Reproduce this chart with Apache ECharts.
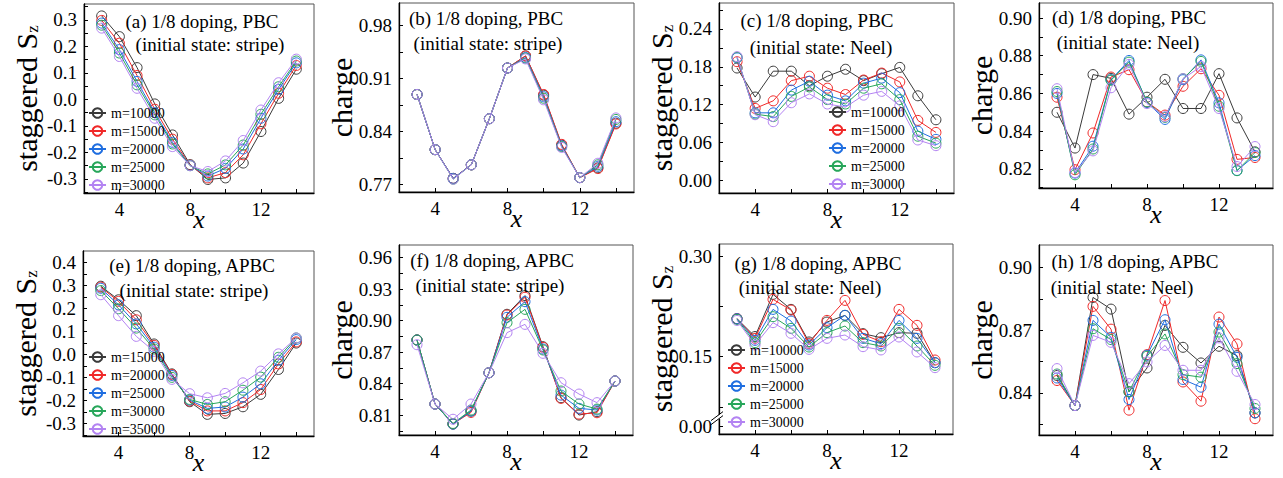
<!DOCTYPE html>
<html><head><meta charset="utf-8">
<script src="https://cdn.jsdelivr.net/npm/echarts@6/dist/echarts.min.js"></script>
<style>html,body{margin:0;padding:0;background:#fff}#c{width:1283px;height:478px}</style>
</head><body><div id="c"></div>
<script>
// ---------------- data ----------------
const xValues = [3, 4, 5, 6, 7, 8, 9, 10, 11, 12, 13, 14];
const xTickLabels = [4, 8, 12];
const xTickMarks = [4, 6, 8, 10, 12, 14];

// (a) staggered Sz, PBC, stripe
const a_m10000 = [0.315, 0.237, 0.120, -0.017, -0.134, -0.246, -0.302, -0.296, -0.240, -0.121, 0.004, 0.114];
const a_m15000 = [0.298, 0.212, 0.090, -0.037, -0.150, -0.248, -0.296, -0.276, -0.209, -0.092, 0.023, 0.128];
const a_m20000 = [0.288, 0.188, 0.068, -0.050, -0.162, -0.249, -0.289, -0.260, -0.187, -0.071, 0.038, 0.138];
const a_m25000 = [0.280, 0.175, 0.055, -0.058, -0.168, -0.250, -0.281, -0.247, -0.172, -0.056, 0.048, 0.145];
const a_m30000 = [0.269, 0.162, 0.042, -0.071, -0.178, -0.250, -0.272, -0.232, -0.155, -0.040, 0.063, 0.152];
// (b) charge, PBC, stripe
const b_m10000 = [0.889, 0.816, 0.778, 0.796, 0.857, 0.924, 0.940, 0.888, 0.822, 0.779, 0.792, 0.851];
const b_m15000 = [0.889, 0.816, 0.778, 0.796, 0.857, 0.924, 0.940, 0.889, 0.823, 0.779, 0.791, 0.850];
const b_m20000 = [0.889, 0.816, 0.778, 0.796, 0.857, 0.924, 0.938, 0.886, 0.821, 0.779, 0.794, 0.853];
const b_m25000 = [0.889, 0.816, 0.777, 0.796, 0.857, 0.924, 0.937, 0.884, 0.820, 0.779, 0.796, 0.856];
const b_m30000 = [0.889, 0.816, 0.777, 0.796, 0.857, 0.924, 0.936, 0.882, 0.819, 0.779, 0.798, 0.858];
// (c) staggered Sz, PBC, Neel
const c_m10000 = [0.178, 0.132, 0.173, 0.173, 0.150, 0.165, 0.176, 0.158, 0.169, 0.179, 0.134, 0.096];
const c_m15000 = [0.188, 0.114, 0.126, 0.158, 0.165, 0.146, 0.136, 0.159, 0.170, 0.156, 0.095, 0.076];
const c_m20000 = [0.194, 0.107, 0.107, 0.143, 0.157, 0.135, 0.126, 0.154, 0.162, 0.139, 0.078, 0.065];
const c_m25000 = [0.195, 0.105, 0.101, 0.133, 0.148, 0.128, 0.121, 0.146, 0.153, 0.128, 0.070, 0.059];
const c_m30000 = [0.196, 0.104, 0.093, 0.123, 0.137, 0.121, 0.116, 0.135, 0.141, 0.118, 0.064, 0.055];
// (d) charge, PBC, Neel
const d_m10000 = [0.850, 0.831, 0.870, 0.868, 0.849, 0.858, 0.8675, 0.852, 0.852, 0.8705, 0.847, 0.829];
const d_m15000 = [0.858, 0.8195, 0.839, 0.8687, 0.8726, 0.8555, 0.8485, 0.8638, 0.8731, 0.859, 0.825, 0.826];
const d_m20000 = [0.860, 0.8177, 0.832, 0.8673, 0.8775, 0.8552, 0.8462, 0.8673, 0.8778, 0.855, 0.8191, 0.827];
const d_m25000 = [0.861, 0.8168, 0.8305, 0.867, 0.8766, 0.8555, 0.8473, 0.8678, 0.877, 0.8532, 0.819, 0.8286];
const d_m30000 = [0.8625, 0.818, 0.8295, 0.863, 0.8754, 0.8546, 0.8476, 0.8678, 0.8743, 0.852, 0.8212, 0.8318];
// (e) staggered Sz, APBC, stripe
const e_m15000 = [0.296, 0.237, 0.168, 0.045, -0.085, -0.206, -0.261, -0.257, -0.228, -0.174, -0.066, 0.049];
const e_m20000 = [0.292, 0.230, 0.150, 0.039, -0.088, -0.203, -0.246, -0.246, -0.210, -0.153, -0.042, 0.054];
const e_m25000 = [0.287, 0.215, 0.132, 0.031, -0.092, -0.199, -0.235, -0.229, -0.186, -0.128, -0.026, 0.064];
const e_m30000 = [0.277, 0.198, 0.114, 0.023, -0.100, -0.196, -0.218, -0.206, -0.156, -0.099, -0.013, 0.071];
const e_m35000 = [0.259, 0.168, 0.078, 0.013, -0.109, -0.171, -0.189, -0.170, -0.124, -0.073, 0.002, 0.071];
// (f) charge, APBC, stripe
const f_m15000 = [0.8815, 0.8205, 0.8014, 0.8138, 0.8503, 0.906, 0.9238, 0.8751, 0.8265, 0.810, 0.8132, 0.8424];
const f_m20000 = [0.8815, 0.8205, 0.8017, 0.8125, 0.8503, 0.9053, 0.9222, 0.8745, 0.8259, 0.8109, 0.8122, 0.8424];
const f_m25000 = [0.8815, 0.8205, 0.8014, 0.8138, 0.8503, 0.9031, 0.918, 0.8729, 0.829, 0.8164, 0.8148, 0.8424];
const f_m30000 = [0.8815, 0.8205, 0.802, 0.8148, 0.8503, 0.898, 0.9107, 0.872, 0.8329, 0.8205, 0.8157, 0.8424];
const f_m35000 = [0.877, 0.8205, 0.806, 0.8205, 0.8503, 0.8885, 0.8964, 0.8688, 0.8408, 0.830, 0.8218, 0.8424];
// (g) staggered Sz, APBC, Neel
const g_m10000 = [0.2066, 0.180, 0.2429, 0.2205, 0.1719, 0.2016, 0.2116, 0.1843, 0.1783, 0.1858, 0.1848, 0.141];
const g_m15000 = [0.2066, 0.1773, 0.2354, 0.2195, 0.1694, 0.2041, 0.2339, 0.1833, 0.1723, 0.2205, 0.1967, 0.145];
const g_m20000 = [0.2066, 0.1743, 0.2205, 0.2031, 0.1674, 0.1932, 0.2116, 0.1773, 0.1694, 0.2041, 0.1773, 0.141];
const g_m25000 = [0.2055, 0.1709, 0.2096, 0.1922, 0.1644, 0.1858, 0.1957, 0.1709, 0.1659, 0.1922, 0.1659, 0.1371];
const g_m30000 = [0.204, 0.1674, 0.2007, 0.1848, 0.1609, 0.1773, 0.1823, 0.1649, 0.160, 0.1793, 0.157, 0.1336];
// (h) charge, APBC, Neel
const h_m10000 = [0.8483, 0.8339, 0.8857, 0.8801, 0.8405, 0.8519, 0.8723, 0.8618, 0.8543, 0.8623, 0.8578, 0.8304];
const h_m15000 = [0.8459, 0.8339, 0.8814, 0.8705, 0.8317, 0.8583, 0.8842, 0.8452, 0.836, 0.8763, 0.8634, 0.8276];
const h_m20000 = [0.8471, 0.8339, 0.8747, 0.8666, 0.8368, 0.858, 0.875, 0.8464, 0.8427, 0.8729, 0.857, 0.8304];
const h_m25000 = [0.849, 0.8339, 0.8707, 0.8655, 0.8405, 0.8575, 0.8682, 0.8487, 0.8475, 0.8691, 0.854, 0.8325];
const h_m30000 = [0.8516, 0.8339, 0.8675, 0.8642, 0.8444, 0.8548, 0.8627, 0.8508, 0.8508, 0.8663, 0.8503, 0.8344];

const namesA = ['m=10000', 'm=15000', 'm=20000', 'm=25000', 'm=30000'];
const namesE = ['m=15000', 'm=20000', 'm=25000', 'm=30000', 'm=35000'];

// tick labels / tick marks of the y axes
const aYLabels = [-0.3, -0.2, -0.1, 0.0, 0.1, 0.2, 0.3];
const aYTicks = [-0.35, -0.3, -0.25, -0.2, -0.15, -0.1, -0.05, 0, 0.05, 0.1, 0.15, 0.2, 0.25, 0.3, 0.35];
const bYLabels = [0.77, 0.84, 0.91, 0.98];
const bYTicks = [0.77, 0.805, 0.84, 0.875, 0.91, 0.945, 0.98];
const cYLabels = [0.00, 0.06, 0.12, 0.18, 0.24];
const cYTicks = [0, 0.03, 0.06, 0.09, 0.12, 0.15, 0.18, 0.21, 0.24, 0.27];
const dYLabels = [0.82, 0.84, 0.86, 0.88, 0.90];
const dYTicks = [0.81, 0.82, 0.83, 0.84, 0.85, 0.86, 0.87, 0.88, 0.89, 0.90];
const eYLabels = [-0.3, -0.2, -0.1, 0.0, 0.1, 0.2, 0.3, 0.4];
const eYTicks = [-0.35, -0.3, -0.25, -0.2, -0.15, -0.1, -0.05, 0, 0.05, 0.1, 0.15, 0.2, 0.25, 0.3, 0.35, 0.4];
const fYLabels = [0.81, 0.84, 0.87, 0.90, 0.93, 0.96];
const fYTicks = [0.795, 0.81, 0.825, 0.84, 0.855, 0.87, 0.885, 0.90, 0.915, 0.93, 0.945, 0.96];
const gYLabels = [0.00, 0.15, 0.30];
const gYTicks = [0, 0.075, 0.15, 0.225, 0.30];
const hYLabels = [0.84, 0.87, 0.90];
const hYTicks = [0.825, 0.84, 0.855, 0.87, 0.885, 0.90];

// ---------------- styling / layout ----------------
const COLORS = ['#3a3a3a', '#f02828', '#1f6ee0', '#27a65a', '#b383f2'];
const SERIF = 'Liberation Serif, serif';
const SZ = 'staggered S{sub|z}';

const panels = [
  {k: 'a', box: [84, 4, 314, 193], y: [-0.353, 0.36], yl: aYLabels, yt: aYTicks, dec: 1, yName: SZ,
   data: [a_m10000, a_m15000, a_m20000, a_m25000, a_m30000], names: namesA, legend: {left: 88, top: 106},
   notes: [['(a) 1/8 doping, PBC', 202, 21], ['(initial state: stripe)', 210, 44]]},
  {k: 'b', box: [399, 3, 634, 192], y: [0.76, 1.01], yl: bYLabels, yt: bYTicks, dec: 2, yName: 'charge',
   data: [b_m10000, b_m15000, b_m20000, b_m25000, b_m30000], names: namesA, legend: null,
   notes: [['(b) 1/8 doping, PBC', 486, 18], ['(initial state: stripe)', 488, 43]]},
  {k: 'c', box: [719, 3, 954, 193], y: [-0.02, 0.281], yl: cYLabels, yt: cYTicks, dec: 2, yName: SZ,
   data: [c_m10000, c_m15000, c_m20000, c_m25000, c_m30000], names: namesA, legend: {left: 828, top: 105},
   notes: [['(c) 1/8 doping, PBC', 817, 20], ['(initial state: Neel)', 821, 47]]},
  {k: 'd', box: [1039, 3, 1273, 188], y: [0.8098, 0.908], yl: dYLabels, yt: dYTicks, dec: 2, yName: 'charge',
   data: [d_m10000, d_m15000, d_m20000, d_m25000, d_m30000], names: namesA, legend: null,
   notes: [['(d) 1/8 doping, PBC', 1129, 17], ['(initial state: Neel)', 1128, 42]]},
  {k: 'e', box: [83, 251, 314, 436], y: [-0.355, 0.449], yl: eYLabels, yt: eYTicks, dec: 1, yName: SZ,
   data: [e_m15000, e_m20000, e_m25000, e_m30000, e_m35000], names: namesE, legend: {left: 88, top: 350},
   notes: [['(e) 1/8 doping, APBC', 192, 265], ['(initial state: stripe)', 194, 290]]},
  {k: 'f', box: [399, 245, 633, 435], y: [0.791, 0.972], yl: fYLabels, yt: fYTicks, dec: 2, yName: 'charge',
   data: [f_m15000, f_m20000, f_m25000, f_m30000, f_m35000], names: namesE, legend: null,
   notes: [['(f) 1/8 doping, APBC', 492, 260], ['(initial state: stripe)', 490, 285]]},
  {k: 'g', box: [719, 244, 953, 434], y: [-0.0115, 0.318], yl: gYLabels, yt: gYTicks, dec: 2, yName: SZ,
   breaks: [{start: 0.01, end: 0.059, gap: '1%'}],
   data: [g_m10000, g_m15000, g_m20000, g_m25000, g_m30000], names: namesA, legend: {left: 727, top: 343},
   notes: [['(g) 1/8 doping, APBC', 818, 263], ['(initial state: Neel)', 810, 287]]},
  {k: 'h', box: [1039, 245, 1273, 435], y: [0.8198, 0.9108], yl: hYLabels, yt: hYTicks, dec: 2, yName: 'charge',
   data: [h_m10000, h_m15000, h_m20000, h_m25000, h_m30000], names: namesA, legend: null,
   notes: [['(h) 1/8 doping, APBC', 1135, 261], ['(initial state: Neel)', 1122, 287]]}
];

const option = {animation: false, backgroundColor: '#fff', grid: [], xAxis: [], yAxis: [], series: [], legend: [], graphic: []};

panels.forEach((p, i) => {
  const [l, t, r, b] = p.box;
  option.grid.push({left: l, top: t, width: r - l, height: b - t, show: true, borderColor: '#555', borderWidth: 1,
    backgroundColor: 'transparent', containLabel: false, outerBoundsMode: 'none'});
  option.xAxis.push({
    type: 'value', gridIndex: i, min: 2, max: 15,
    name: 'x', nameLocation: 'middle', nameGap: 16, nameMoveOverlap: false,
    nameTextStyle: {fontFamily: SERIF, fontStyle: 'italic', fontSize: 26, lineHeight: 20, color: '#000'},
    axisLine: {onZero: false, lineStyle: {color: '#000', width: 1.3}},
    axisTick: {inside: true, length: 4, customValues: xTickMarks, lineStyle: {color: '#000', width: 1}},
    axisLabel: {customValues: xTickLabels, fontFamily: SERIF, fontSize: 19, color: '#000', margin: 7},
    splitLine: {show: false}
  });
  const yAx = {
    type: 'value', gridIndex: i, min: p.y[0], max: p.y[1],
    name: p.yName, nameLocation: 'middle', nameGap: 43, nameMoveOverlap: false,
    nameTextStyle: {fontFamily: SERIF, fontSize: 30, color: '#000',
      rich: {sub: {fontFamily: SERIF, fontSize: 17, color: '#000', verticalAlign: 'bottom'}}},
    axisLine: {onZero: false, lineStyle: {color: '#000', width: 1.3}},
    axisTick: {inside: true, length: 4, customValues: p.yt, lineStyle: {color: '#000', width: 1}},
    axisLabel: {customValues: p.yl, fontFamily: SERIF, fontSize: 19, color: '#000', margin: 7,
      formatter: (v) => Number(v).toFixed(p.dec)},
    splitLine: {show: false}
  };
  if (p.breaks) {
    yAx.breaks = p.breaks;
    yAx.breakArea = {show: false};
  }
  option.yAxis.push(yAx);
  p.data.forEach((arr, j) => {
    option.series.push({
      type: 'line', name: p.k + ':' + p.names[j], xAxisIndex: i, yAxisIndex: i,
      data: xValues.map((x, q) => [x, arr[q]]),
      symbol: 'circle', symbolSize: 10,
      lineStyle: {color: COLORS[j], width: 1},
      itemStyle: {color: 'rgba(255,255,255,0)', borderColor: COLORS[j], borderWidth: 1},
      emphasis: {disabled: true}, z: 2 + j
    });
  });
  if (p.legend) {
    option.legend.push({
      orient: 'vertical', left: p.legend.left, top: p.legend.top, z: 20,
      itemWidth: 17, itemHeight: 12, itemGap: 4, padding: 0, selectedMode: false,
      data: p.names.map(n => p.k + ':' + n),
      formatter: (n) => n.split(':')[1],
      textStyle: {fontFamily: SERIF, fontSize: 14, color: '#000'}
    });
  }
  p.notes.forEach(([txt, x, y]) => {
    option.graphic.push({type: 'text', x: x, y: y, z: 100,
      style: {text: txt, font: '19px ' + SERIF, fill: '#000', align: 'center', verticalAlign: 'middle',
              textAlign: 'center', textVerticalAlign: 'middle'}});
  });
});

const chart = echarts.init(document.getElementById('c'), null, {renderer: 'svg'});
chart.setOption(option);

// axis-break marks "//" on panel (g)
try {
  const gi = panels.findIndex(p => p.k === 'g');
  const y0 = chart.convertToPixel({yAxisIndex: gi}, 0.01);
  const y1 = chart.convertToPixel({yAxisIndex: gi}, 0.059);
  const ym = (y0 + y1) / 2;
  const xa = panels[gi].box[0];
  if (isFinite(ym)) {
    option.graphic.push({type: 'polygon', z: 120, shape: {points: [[xa - 7, ym + 1], [xa + 3, ym - 6], [xa + 3, ym - 2], [xa - 7, ym + 5]]}, style: {fill: '#fff'}});
    option.graphic.push({type: 'line', z: 121, shape: {x1: xa - 8, y1: ym + 2, x2: xa + 4, y2: ym - 7}, style: {stroke: '#000', lineWidth: 1}});
    option.graphic.push({type: 'line', z: 121, shape: {x1: xa - 8, y1: ym + 6, x2: xa + 4, y2: ym - 3}, style: {stroke: '#000', lineWidth: 1}});
    chart.setOption(option, true);
  }
} catch (e) { console.log(e); }
</script>
</body></html>
